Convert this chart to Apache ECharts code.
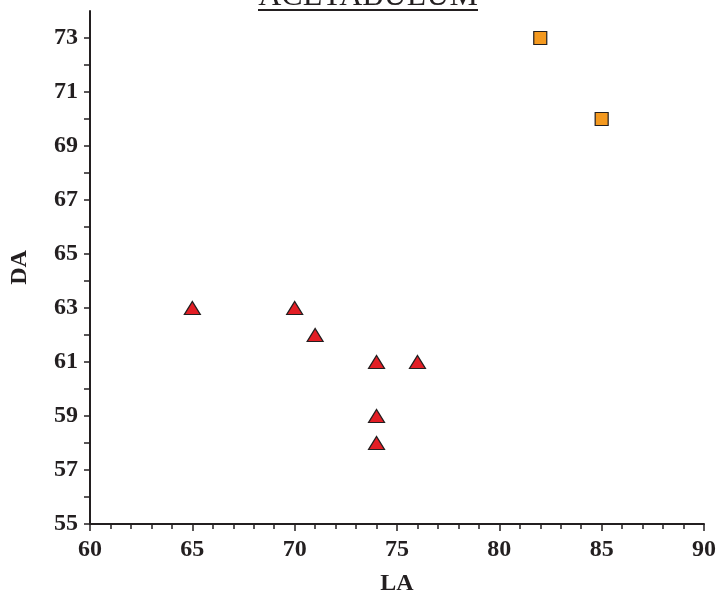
<!DOCTYPE html>
<html><head><meta charset="utf-8">
<script src="https://cdn.jsdelivr.net/npm/echarts@6/dist/echarts.min.js"></script>
<style>html,body{margin:0;padding:0;background:#fff}#c{width:722px;height:593px}</style>
</head><body><div id="c"></div>
<script>
const titleText = "ACETABULUM";
const xName = "LA";
const yName = "DA";
const triangleX = [65, 70, 71, 74, 76, 74, 74];
const triangleY = [63, 63, 62, 61, 61, 59, 58];
const squareX = [82, 85];
const squareY = [73, 70];
const xTicks = [60, 65, 70, 75, 80, 85, 90];
const yTicks = [55, 57, 59, 61, 63, 65, 67, 69, 71, 73];

const chart = echarts.init(document.getElementById('c'));
const fam = '"Liberation Serif", "Times New Roman", Times, serif';
const ink = '#231f20';
chart.setOption({
  animation: false,
  grid: {left: 90, right: 18, top: 11, bottom: 69, containLabel: false, outerBoundsMode: 'none'},
  graphic: [
    {type: 'text', x: 368, y: -19, style: {text: titleText, fontFamily: fam, fontSize: 32, fill: ink, align: 'center', verticalAlign: 'top'}},
    {type: 'rect', shape: {x: 258, y: 9, width: 220, height: 2}, style: {fill: ink}}
  ],
  xAxis: {
    type: 'value', min: 60, max: 90, interval: 5,
    name: xName, nameLocation: 'middle', nameGap: 48,
    nameTextStyle: {fontFamily: fam, fontWeight: 'bold', fontSize: 24, color: ink},
    axisLine: {show: true, onZero: false, lineStyle: {color: ink, width: 2}},
    axisTick: {show: true, length: 7, lineStyle: {color: ink, width: 1.5}},
    minorTick: {show: true, splitNumber: 5, length: 5, lineStyle: {color: ink, width: 1.5}},
    axisLabel: {fontFamily: fam, fontWeight: 'bold', fontSize: 24, color: ink, margin: 14,
      formatter: v => xTicks.includes(v) ? String(v) : ''},
    splitLine: {show: false}
  },
  yAxis: {
    type: 'value', min: 55, max: 74, interval: 1,
    name: yName, nameLocation: 'middle', nameGap: 58, nameRotate: 90,
    nameTextStyle: {fontFamily: fam, fontWeight: 'bold', fontSize: 24, color: ink},
    axisLine: {show: true, onZero: false, lineStyle: {color: ink, width: 2}},
    axisTick: {show: true, length: 6, lineStyle: {color: ink, width: 1.5}},
    axisLabel: {fontFamily: fam, fontWeight: 'bold', fontSize: 24, color: ink, margin: 12,
      showMaxLabel: false,
      formatter: v => yTicks.includes(v) ? String(v) : ''},
    splitLine: {show: false}
  },
  series: [
    {type: 'scatter', symbol: 'triangle', symbolSize: [16, 13],
     data: triangleX.map((x, i) => [x, triangleY[i]]),
     itemStyle: {color: '#e31e25', borderColor: ink, borderWidth: 1.2, opacity: 1}},
    {type: 'scatter', symbol: 'rect', symbolSize: 13,
     data: squareX.map((x, i) => [x, squareY[i]]),
     itemStyle: {color: '#f4991f', borderColor: ink, borderWidth: 1.2, opacity: 1}}
  ]
});
</script></body></html>
